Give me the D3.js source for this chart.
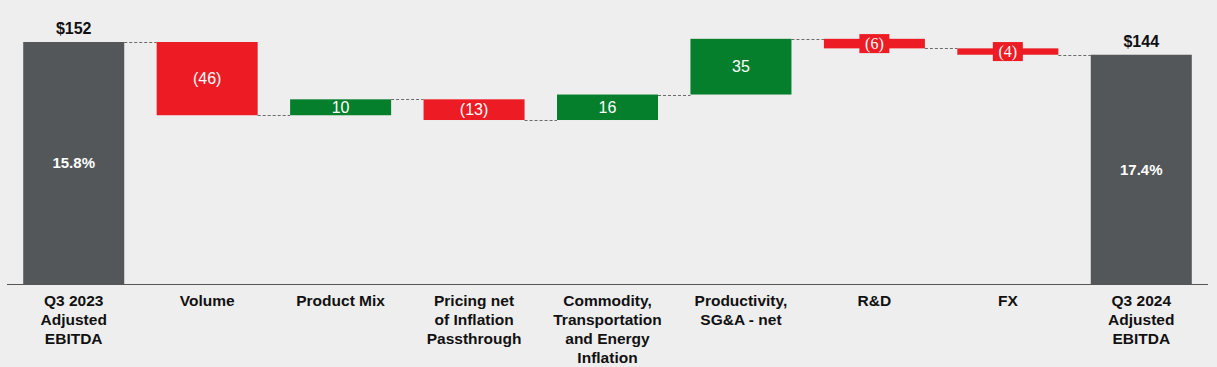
<!DOCTYPE html>
<html>
<head>
<meta charset="utf-8">
<script src="https://cdn.jsdelivr.net/npm/d3@7"></script>
<style>
  html, body { margin: 0; padding: 0; background: #efeeee; }
  svg { display: block; }
</style>
</head>
<body>
<div id="chart"></div>
<script>
// data
const categories = [
  ['Q3 2023', 'Adjusted', 'EBITDA'],
  ['Volume'],
  ['Product Mix'],
  ['Pricing net', 'of Inflation', 'Passthrough'],
  ['Commodity,', 'Transportation', 'and Energy', 'Inflation'],
  ['Productivity,', 'SG&A - net'],
  ['R&D'],
  ['FX'],
  ['Q3 2024', 'Adjusted', 'EBITDA']
];
const startValue = 152;
const deltas = [-46, 10, -13, 16, 35, -6, -4];
const endValue = 144;
const marginLabels = ['15.8%', '17.4%'];

const width = 1217, height = 367;
const baseY = 284, topY = 42;

const svg = d3.select('#chart').append('svg')
  .attr('width', width)
  .attr('height', height);

// build the steps
const steps = [];
let running = startValue;
steps.push({ type: 'total', from: 0, to: startValue, label: '$' + startValue, pct: marginLabels[0] });
deltas.forEach(d => {
  steps.push({ type: d < 0 ? 'neg' : 'pos', from: running, to: running + d, value: d });
  running += d;
});
steps.push({ type: 'total', from: 0, to: endValue, label: '$' + endValue, pct: marginLabels[1] });

const x = d3.scaleBand()
  .domain(d3.range(steps.length))
  .range([7, 1208])
  .paddingInner(0.243)
  .paddingOuter(0.1215);

const y = d3.scaleLinear()
  .domain([0, startValue])
  .range([baseY, topY]);

const colors = { total: '#54575a', neg: '#ed1c24', pos: '#067f2c' };

// connectors
for (let i = 0; i < steps.length - 1; i++) {
  const lvl = steps[i].to;
  svg.append('line')
    .attr('x1', x(i) + x.bandwidth())
    .attr('x2', x(i + 1))
    .attr('y1', Math.round(y(lvl)) + 0.5)
    .attr('y2', Math.round(y(lvl)) + 0.5)
    .attr('stroke', '#6b6b6b')
    .attr('stroke-width', 1)
    .attr('stroke-dasharray', '3,2');
}

// bars
svg.selectAll('.bar')
  .data(steps)
  .enter()
  .append('rect')
  .attr('class', 'bar')
  .attr('x', (d, i) => x(i))
  .attr('width', x.bandwidth())
  .attr('y', d => y(Math.max(d.from, d.to)))
  .attr('height', d => Math.abs(y(d.from) - y(d.to)))
  .attr('fill', d => colors[d.type]);

// baseline
svg.append('line')
  .attr('x1', 7).attr('x2', 1208)
  .attr('y1', baseY + 0.5).attr('y2', baseY + 0.5)
  .attr('stroke', '#555')
  .attr('stroke-width', 1);

const fmt = v => v < 0 ? '(' + Math.abs(v) + ')' : String(v);

steps.forEach((d, i) => {
  const cx = x(i) + x.bandwidth() / 2;
  const yTop = y(Math.max(d.from, d.to));
  const yBot = y(Math.min(d.from, d.to));
  const mid = (yTop + yBot) / 2;
  if (d.type === 'total') {
    svg.append('text')
      .attr('x', cx).attr('y', yTop - 8)
      .attr('text-anchor', 'middle')
      .style('font-family', 'Liberation Sans, Arial, sans-serif')
      .style('font-weight', 'bold')
      .style('font-size', '16px')
      .attr('fill', '#111')
      .text(d.label);
    svg.append('text')
      .attr('x', cx).attr('y', mid)
      .attr('dy', '0.35em')
      .attr('text-anchor', 'middle')
      .style('font-family', 'Liberation Sans, Arial, sans-serif')
      .style('font-weight', 'bold')
      .style('font-size', '15px')
      .attr('fill', '#fff')
      .text(d.pct);
  } else if (yBot - yTop < 14) {
    // thin bar: label sits on a small red box
    svg.append('rect')
      .attr('x', cx - 15).attr('y', mid - 9.5)
      .attr('width', 30).attr('height', 19)
      .attr('fill', colors[d.type]);
    svg.append('text')
      .attr('x', cx).attr('y', mid)
      .attr('dy', '0.35em')
      .attr('text-anchor', 'middle')
      .style('font-family', 'Liberation Serif, Times New Roman, serif')
      .style('font-size', '16px')
      .attr('fill', '#fff')
      .text(fmt(d.value));
  } else {
    svg.append('text')
      .attr('x', cx).attr('y', mid)
      .attr('dy', '0.35em')
      .attr('text-anchor', 'middle')
      .style('font-family', 'Liberation Sans, Arial, sans-serif')
      .style('font-size', '16px')
      .attr('fill', '#fff')
      .text(fmt(d.value));
  }
});

// category labels
categories.forEach((lines, i) => {
  const t = svg.append('text')
    .attr('text-anchor', 'middle')
    .style('font-family', 'Liberation Sans, Arial, sans-serif')
    .style('font-weight', 'bold')
    .style('font-size', '15.5px')
    .attr('fill', '#111');
  lines.forEach((ln, j) => {
    t.append('tspan')
      .attr('x', x(i) + x.bandwidth() / 2)
      .attr('y', 306 + j * 19)
      .text(ln);
  });
});
</script>
</body>
</html>
